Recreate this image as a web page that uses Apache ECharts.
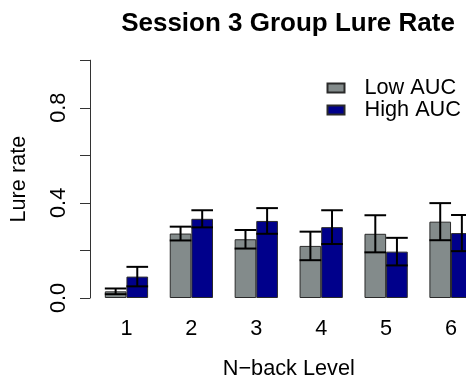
<!DOCTYPE html>
<html>
<head>
<meta charset="utf-8">
<script src="https://cdn.jsdelivr.net/npm/echarts@6/dist/echarts.min.js"></script>
<style>
  html, body { margin: 0; padding: 0; background: #fff; overflow: hidden; width: 466px; height: 385px; }
  /* the plot region runs past the right edge of the page, so the canvas is wider than the view */
  #chart { width: 492px; height: 385px; }
</style>
</head>
<body>
<div id="chart"></div>
<script>
// N-back levels on the x axis
const categories = ['1', '2', '3', '4', '5', '6'];
// Mean lure rate and standard error per group
const lowMean  = [0.028, 0.271, 0.247, 0.219, 0.270, 0.321];
const lowSE    = [0.012, 0.029, 0.039, 0.060, 0.078, 0.078];
const highMean = [0.090, 0.333, 0.324, 0.298, 0.195, 0.273];
const highSE   = [0.041, 0.036, 0.054, 0.071, 0.058, 0.076];
// Y tick labels that are printed
const yTickLabels = ['0.0', '0.4', '0.8'];
const seriesNames = ['Low AUC', 'High AUC'];

const FONT = '"Liberation Sans", Arial, Helvetica, sans-serif';
const LOW_COLOR = '#838B8B';
const HIGH_COLOR = '#00008B';

// Error bar rows: [category index, mean, se, side (-1 left bar, +1 right bar)]
const errRows = [];
categories.forEach((c, i) => {
  errRows.push([i, lowMean[i], lowSE[i], -1]);
  errRows.push([i, highMean[i], highSE[i], 1]);
});

function renderErr(params, api) {
  const idx = api.value(0);
  const mean = api.value(1);
  const se = api.value(2);
  const side = api.value(3);
  const band = api.size([1, 0])[0];
  const bw = band / 3;
  const center = api.coord([idx, mean]);
  const cx = center[0] + side * bw / 2;
  const yTop = api.coord([idx, mean + se])[1];
  const yBot = api.coord([idx, mean - se])[1];
  const style = { stroke: '#000', lineWidth: 2 };
  return {
    type: 'group',
    children: [
      { type: 'line', shape: { x1: cx, y1: yTop, x2: cx, y2: yBot }, style },
      { type: 'line', shape: { x1: cx - bw / 2, y1: yTop, x2: cx + bw / 2, y2: yTop }, style },
      { type: 'line', shape: { x1: cx - bw / 2, y1: yBot, x2: cx + bw / 2, y2: yBot }, style }
    ]
  };
}

const chart = echarts.init(document.getElementById('chart'), null, { renderer: 'canvas' });
chart.setOption({
  animation: false,
  backgroundColor: '#fff',
  textStyle: { fontFamily: FONT },
  title: {
    text: 'Session 3 Group Lure Rate',
    left: 283,
    textAlign: 'center',
    top: 6,
    textStyle: { fontFamily: FONT, fontSize: 26, fontWeight: 'bold', color: '#000' }
  },
  legend: {
    data: seriesNames,
    orient: 'vertical',
    left: 326.5,
    top: 77,
    padding: 0,
    itemGap: 0,
    itemWidth: 17,
    itemHeight: 9,
    icon: 'rect',
    textStyle: { fontFamily: FONT, fontSize: 21.7, lineHeight: 20, color: '#000', padding: [0, 0, 0, 15] }
  },
  grid: { left: 93.5, top: 60.2, width: 390, height: 242.5, containLabel: false },
  xAxis: {
    type: 'category',
    data: categories,
    axisLine: { show: false },
    axisTick: { show: false },
    axisLabel: { color: '#000', fontSize: 21.7, fontFamily: FONT, margin: 20 },
    name: 'N\u2212back Level',
    nameLocation: 'middle',
    nameGap: 60,
    nameTextStyle: { color: '#000', fontSize: 21.7, fontFamily: FONT }
  },
  yAxis: {
    type: 'value',
    min: 0,
    max: 1.0,
    interval: 0.2,
    offset: 4,
    splitLine: { show: false },
    axisLine: { show: true, lineStyle: { color: '#333', width: 1 } },
    axisTick: { show: true, length: 10, lineStyle: { color: '#333', width: 1 } },
    axisLabel: {
      color: '#000',
      fontSize: 21.7,
      fontFamily: FONT,
      rotate: 90,
      margin: 20,
      formatter: v => {
        const s = v.toFixed(1);
        return yTickLabels.indexOf(s) >= 0 ? s : '';
      }
    },
    name: 'Lure rate',
    nameLocation: 'middle',
    nameRotate: 90,
    nameGap: 60,
    nameTextStyle: { color: '#000', fontSize: 21.7, fontFamily: FONT }
  },
  series: [
    {
      name: seriesNames[0],
      type: 'bar',
      data: lowMean,
      barGap: '0%',
      barCategoryGap: '33.333%',
      itemStyle: { color: LOW_COLOR, borderColor: '#2a2a2a', borderWidth: 1 }
    },
    {
      name: seriesNames[1],
      type: 'bar',
      data: highMean,
      barGap: '0%',
      barCategoryGap: '33.333%',
      itemStyle: { color: HIGH_COLOR, borderColor: '#2a2a2a', borderWidth: 1 }
    },
    {
      type: 'custom',
      renderItem: renderErr,
      data: errRows,
      z: 10,
      silent: true,
      encode: { x: 0, y: 1 }
    }
  ]
});
</script>
</body>
</html>
